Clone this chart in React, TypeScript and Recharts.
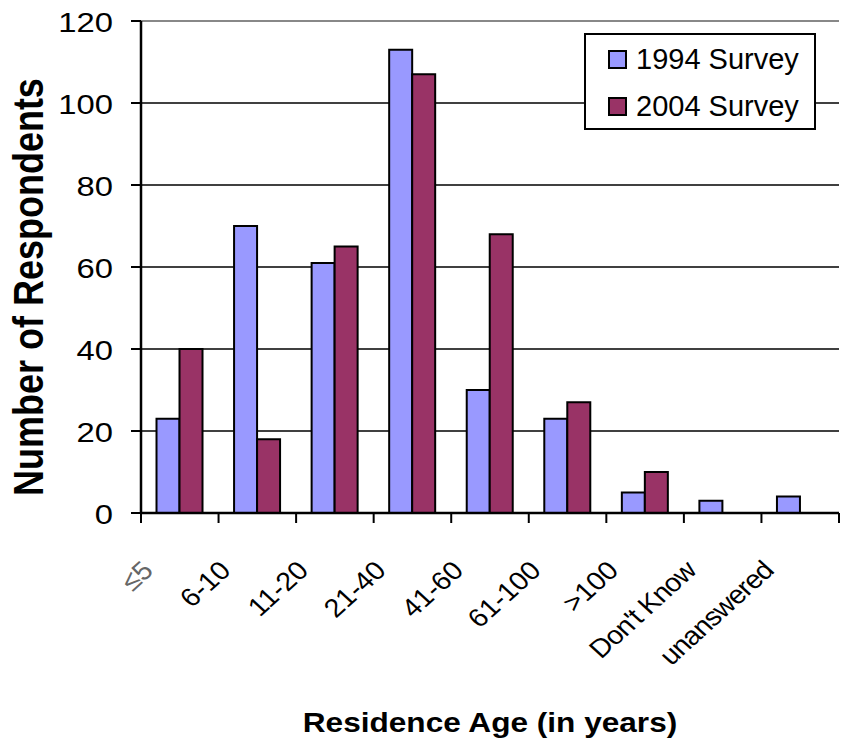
import { BarChart, Bar, XAxis, YAxis, CartesianGrid, ReferenceLine } from "recharts";

const CATEGORIES = ["≤5", "6-10", "11-20", "21-40", "41-60", "61-100", ">100", "Don't Know", "unanswered"];
const SURVEY_1994 = [23, 70, 61, 113, 30, 23, 5, 3, 4];
const SURVEY_2004 = [40, 18, 65, 107, 68, 27, 10, 0, 0];
const Y_TICKS = [0, 20, 40, 60, 80, 100, 120];

const data = CATEGORIES.map((name, i) => ({
  name,
  s1994: SURVEY_1994[i],
  s2004: SURVEY_2004[i],
}));

const FONT = "'Liberation Sans', Arial, sans-serif";
const SX = 1.17; // the reference text looks stretched sideways

const XTick = (props: any) => {
  const { x, y, payload, index, width } = props;
  const band = width / CATEGORIES.length;
  const left = x - band / 2;
  const ax = x - 25;
  const ay = y + 59;
  const tight = payload.value.length > 7;
  return (
    <g>
      <line x1={left} y1={y} x2={left} y2={y + 10} stroke="#000" strokeWidth={2} />
      {index === CATEGORIES.length - 1 && (
        <line x1={left + band} y1={y} x2={left + band} y2={y + 10} stroke="#000" strokeWidth={2} />
      )}
      <text
        x={0}
        y={0}
        textAnchor="end"
        transform={`translate(${ax}, ${ay}) scale(1.1, 1) rotate(-45)`}
        fontSize={26}
        fontFamily={FONT}
        letterSpacing={tight ? -0.8 : 0}
        fill={index === 0 ? "#666" : "#000"}
      >
        {payload.value}
      </text>
    </g>
  );
};

const YTick = (props: any) => {
  const { x, y, payload } = props;
  return (
    <text
      x={0}
      y={0}
      textAnchor="end"
      dominantBaseline="central"
      transform={`translate(${x}, ${y + 1}) scale(${SX}, 1)`}
      fontSize={28}
      fontFamily={FONT}
      fill="#000"
    >
      {payload.value}
    </text>
  );
};

const LEGEND_ITEMS = [
  { label: "1994 Survey", color: "#9999FF" },
  { label: "2004 Survey", color: "#993366" },
];

const LegendBox = () => (
  <div
    style={{
      position: "absolute",
      left: 584,
      top: 33,
      width: 232,
      height: 97,
      border: "2px solid #000",
      background: "#fff",
      fontFamily: FONT,
      fontSize: 29,
      boxSizing: "border-box",
      paddingLeft: 22,
      paddingTop: 1,
    }}
  >
    {LEGEND_ITEMS.map((it) => (
      <div key={it.label} style={{ display: "flex", alignItems: "center", height: 47 }}>
        <span
          style={{
            width: 19,
            height: 19,
            boxSizing: "border-box",
            background: it.color,
            border: "2px solid #000",
            marginRight: 9,
            display: "inline-block",
          }}
        />
        <span style={{ color: "#000" }}>{it.label}</span>
      </div>
    ))}
  </div>
);

export default function App() {
  return (
    <div style={{ position: "absolute", left: 0, top: 0, width: 843, height: 746, background: "#fff" }}>
      <BarChart
        width={843}
        height={746}
        data={data}
        margin={{ top: 21, right: 4, left: 0, bottom: 0 }}
        barCategoryGap="20%"
        barGap={0}
      >
        <CartesianGrid vertical={false} stroke="#000" strokeWidth={1.5} />
        <ReferenceLine y={120} stroke="#888" strokeWidth={2} />
        <XAxis
          dataKey="name"
          height={233}
          interval={0}
          tickSize={0}
          tickMargin={0}
          tickLine={false}
          axisLine={{ stroke: "#000", strokeWidth: 2.5 }}
          tick={<XTick />}
          label={(p: any) => {
            const vb = p.viewBox;
            const cx = vb.x + vb.width / 2;
            return (
              <text
                x={0}
                y={0}
                textAnchor="middle"
                transform={`translate(${cx}, 732) scale(${SX}, 1)`}
                fontSize={27}
                fontWeight="bold"
                fontFamily={FONT}
                fill="#000"
              >
                Residence Age (in years)
              </text>
            );
          }}
        />
        <YAxis
          width={141}
          domain={[0, 120]}
          ticks={Y_TICKS}
          interval={0}
          tickSize={10}
          tickMargin={18}
          tickLine={{ stroke: "#000", strokeWidth: 2 }}
          axisLine={{ stroke: "#000", strokeWidth: 2.5 }}
          tick={<YTick />}
          label={(p: any) => {
            const vb = p.viewBox;
            const cy = vb.y + vb.height / 2 + 20;
            return (
              <text
                x={0}
                y={0}
                textAnchor="middle"
                transform={`translate(43, ${cy}) scale(${SX}, 1) rotate(-90)`}
                fontSize={36}
                fontWeight="bold"
                fontFamily={FONT}
                fill="#000"
              >
                Number of Respondents
              </text>
            );
          }}
        />
        <YAxis
          yAxisId="right"
          orientation="right"
          width={0}
          domain={[0, 120]}
          tick={false}
          tickLine={false}
          axisLine={{ stroke: "#888", strokeWidth: 2 }}
        />
        <Bar
          dataKey="s1994"
          name="1994 Survey"
          fill="#9999FF"
          stroke="#000"
          strokeWidth={2}
          isAnimationActive={false}
        />
        <Bar
          dataKey="s2004"
          name="2004 Survey"
          fill="#993366"
          stroke="#000"
          strokeWidth={2}
          isAnimationActive={false}
        />
      </BarChart>
      <LegendBox />
    </div>
  );
}
